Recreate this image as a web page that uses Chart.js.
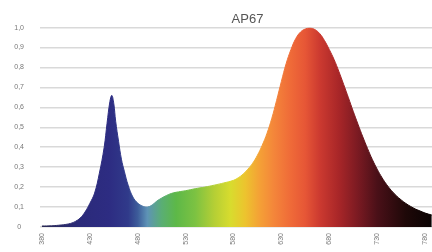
<!DOCTYPE html>
<html>
<head>
<meta charset="utf-8">
<script src="https://cdn.jsdelivr.net/npm/chart.js@4.4.1/dist/chart.umd.min.js"></script>
<style>
    html, body { margin: 0; padding: 0; background: #fff; overflow: hidden; }
    #wrap { width: 495px; height: 252px; }
</style>
</head>
<body>
<div id="wrap"><canvas id="spectrumChart"></canvas></div>
<script>
// wavelength (nm) and relative intensity
var wavelengths = [380, 390, 400, 405, 410, 415, 420, 425, 430, 435, 440, 445, 448, 451, 453, 455, 457, 460, 463, 466,
    470, 475, 480, 485, 490, 495, 500, 505, 510, 515, 520, 530, 540, 550, 560, 570, 580, 585, 590, 595,
    600, 605, 610, 615, 620, 625, 630, 635, 640, 645, 650, 655, 660, 665, 670, 675, 680, 685, 690, 695,
    700, 705, 710, 715, 720, 725, 730, 735, 740, 745, 750, 755, 760, 765, 770, 775, 780, 787];
var intensity = [0.005, 0.006, 0.01, 0.013, 0.018, 0.028, 0.045, 0.075, 0.118, 0.17, 0.27, 0.40, 0.52, 0.63, 0.66, 0.62, 0.53, 0.43, 0.34, 0.28,
    0.21, 0.15, 0.12, 0.105, 0.10, 0.11, 0.13, 0.145, 0.158, 0.168, 0.174, 0.182, 0.192, 0.200, 0.21, 0.221, 0.234, 0.247, 0.265, 0.29,
    0.32, 0.36, 0.41, 0.47, 0.545, 0.635, 0.73, 0.82, 0.89, 0.945, 0.978, 0.993, 0.998, 0.99, 0.97, 0.935, 0.89, 0.84, 0.78, 0.715,
    0.648, 0.58, 0.515, 0.452, 0.393, 0.338, 0.29, 0.248, 0.212, 0.182, 0.157, 0.136, 0.118, 0.103, 0.09, 0.08, 0.07, 0.06];
var xTicks = [380, 430, 480, 530, 580, 630, 680, 730, 780];

// spectrum colours by wavelength
var spectrumStops = [
    [380, '#2a2a55'], [420, '#2b2a7a'], [450, '#2d2c82'], [470, '#303a8a'], [480, '#3d5c9a'],
    [490, '#5e93b6'], [505, '#5aae74'], [520, '#5db848'], [540, '#7cc242'], [560, '#b5cf35'],
    [577, '#d8dc2e'], [592, '#ecc42e'], [607, '#f4a136'], [622, '#f4863a'], [640, '#ef6a38'],
    [655, '#e65636'], [670, '#cc3a30'], [690, '#a82628'], [710, '#7a1a22'], [730, '#4a1018'],
    [760, '#1e0808'], [787, '#0a0303']
];

var points = wavelengths.map(function (w, i) { return { x: w, y: intensity[i] }; });

function spectrumFill(context) {
    var chart = context.chart;
    var area = chart.chartArea;
    if (!area) return null;
    var xs = chart.scales.x;
    var g = chart.ctx.createLinearGradient(area.left, 0, area.right, 0);
    spectrumStops.forEach(function (s) {
        var p = (xs.getPixelForValue(s[0]) - area.left) / (area.right - area.left);
        g.addColorStop(Math.min(1, Math.max(0, p)), s[1]);
    });
    return g;
}

var ctx = document.getElementById('spectrumChart').getContext('2d');
var chart = new Chart(ctx, {
    type: 'line',
    data: {
        datasets: [{
            label: 'AP67',
            data: points,
            backgroundColor: spectrumFill,
            borderColor: spectrumFill,
            borderWidth: 1,
            fill: 'origin',
            pointRadius: 0,
            tension: 0.4
        }]
    },
    options: {
        responsive: true,
        maintainAspectRatio: false,
        animation: false,
        layout: { padding: 0 },
        plugins: {
            legend: { display: false },
            tooltip: { enabled: false },
            title: {
                display: true,
                text: 'AP67',
                color: '#555',
                font: { family: 'Liberation Sans', size: 13, weight: 'normal' },
                padding: { top: 12, bottom: 0 }
            }
        },
        scales: {
            x: {
                type: 'linear',
                min: 378,
                max: 853,
                afterBuildTicks: function (scale) {
                    scale.ticks = xTicks.map(function (v) { return { value: v }; });
                },
                afterFit: function (scale) { scale.height = 25; },
                grid: { display: false, drawTicks: false },
                border: { display: false },
                ticks: {
                    autoSkip: false,
                    minRotation: 90,
                    maxRotation: 90,
                    padding: 6,
                    color: '#777',
                    font: { family: 'Liberation Sans', size: 7 }
                }
            },
            y: {
                min: 0,
                max: 1,
                afterFit: function (scale) { scale.width = 40; },
                grid: { color: '#d9d9d9', lineWidth: 1.5, drawTicks: false },
                border: { display: false },
                ticks: {
                    stepSize: 0.1,
                    crossAlign: 'center',
                    padding: 16,
                    color: '#777',
                    font: { family: 'Liberation Sans', size: 7 },
                    callback: function (value) {
                        if (value === 0) return '0';
                        return value.toFixed(1).replace('.', ',');
                    }
                }
            }
        }
    }
});
</script>
</body>
</html>
